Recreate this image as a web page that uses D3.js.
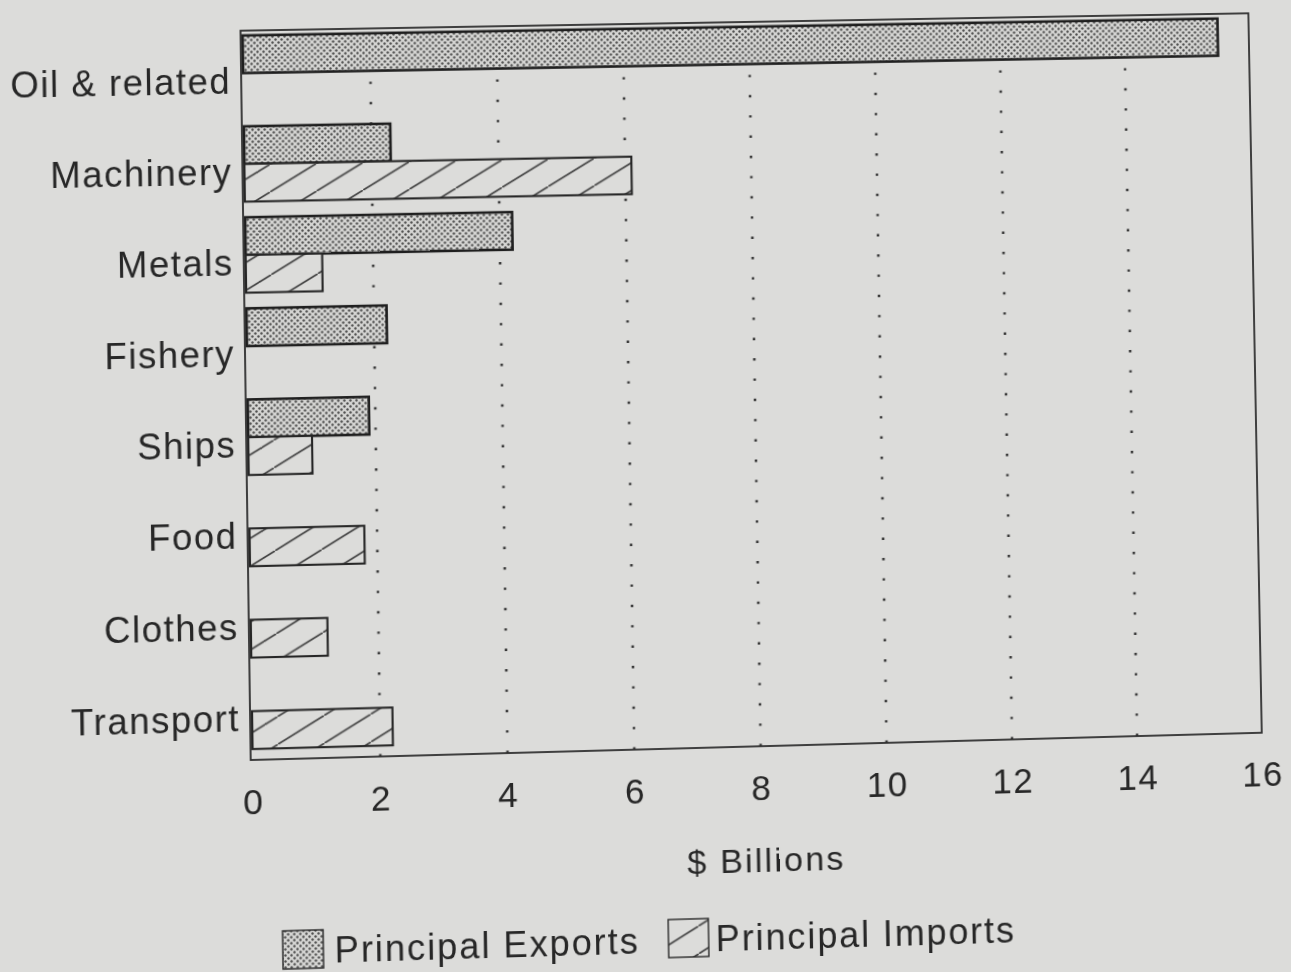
<!DOCTYPE html>
<html>
<head>
<meta charset="utf-8">
<script src="https://cdn.jsdelivr.net/npm/d3@7"></script>
<style>
  html, body { margin: 0; padding: 0; background: #dcdcda; overflow: hidden; }
  #chart { position: absolute; left: 0; top: 0; transform-origin: 0 0; }
  text { font-family: "Liberation Sans", Arial, Helvetica, sans-serif; fill: #272727; }
</style>
</head>
<body>
<svg id="chart" width="1291" height="972"></svg>
<script>
// Trade by commodity group, $ billions
const categories = ["Oil & related", "Machinery", "Metals", "Fishery", "Ships", "Food", "Clothes", "Transport"];
const exportsBn  = [15.5, 2.3, 4.2, 2.2, 1.9, 0, 0, 0];
const importsBn  = [0, 6.1, 1.2, 0, 1.0, 1.8, 1.2, 2.2];
const xTicks     = [0, 2, 4, 6, 8, 10, 12, 14, 16];
const gridTicks  = [2, 4, 6, 8, 10, 12, 14];
const seriesNames = ["Principal Exports", "Principal Imports"];
const axisTitle  = "$ Billions";

const frame = { left: 240, right: 1250, top: 31, bottom: 760 };

const svg = d3.select("#chart");

// ---- fill patterns ----
const defs = svg.append("defs");

const dots = defs.append("pattern")
  .attr("id", "dots").attr("patternUnits", "userSpaceOnUse")
  .attr("width", 6).attr("height", 6);
dots.append("rect").attr("width", 6).attr("height", 6).attr("fill", "#d4d4d2");
dots.append("circle").attr("cx", 1.5).attr("cy", 1.5).attr("r", 1.2).attr("fill", "#505050");
dots.append("circle").attr("cx", 4.5).attr("cy", 4.5).attr("r", 1.2).attr("fill", "#505050");

const hw = 46, hh = 46 * 0.6;
const hatch = defs.append("pattern")
  .attr("id", "hatch").attr("patternUnits", "userSpaceOnUse")
  .attr("x", 37).attr("width", hw).attr("height", hh);
hatch.append("rect").attr("width", hw).attr("height", hh).attr("fill", "#dcdcda");
[[0, 0], [hw, -hh], [-hw, hh]].forEach(([dx, dy]) => {
  hatch.append("line")
    .attr("x1", 0 + dx).attr("y1", hh + dy)
    .attr("x2", hw + dx).attr("y2", 0 + dy)
    .attr("stroke", "#3a3a3a").attr("stroke-width", 1.6);
});

// ---- scales ----
const x = d3.scaleLinear().domain([0, 16]).range([242, frame.right]);
const y = d3.scaleBand().domain(categories).range([frame.top, frame.bottom]);
const bw = y.bandwidth();
const barOffset = bw * 0.053;
const barH = bw * 0.414;

// ---- dotted gridlines ----
svg.append("g").selectAll("line").data(gridTicks).join("line")
  .attr("x1", d => x(d)).attr("x2", d => x(d))
  .attr("y1", frame.bottom).attr("y2", frame.top)
  .attr("stroke", "#3a3a3a").attr("stroke-width", 2.6)
  .attr("stroke-dasharray", "2.4 18");

// ---- bars ----
const rows = categories.map((c, i) => ({ c, ex: exportsBn[i], im: importsBn[i] }));

svg.append("g").selectAll("rect").data(rows.filter(d => d.ex > 0)).join("rect")
  .attr("x", x(0)).attr("y", d => y(d.c) + barOffset)
  .attr("width", d => x(d.ex) - x(0)).attr("height", barH)
  .attr("fill", "url(#dots)").attr("stroke", "#1f1f1f").attr("stroke-width", 2.6);

svg.append("g").selectAll("rect").data(rows.filter(d => d.im > 0)).join("rect")
  .attr("x", x(0)).attr("y", d => y(d.c) + barOffset + barH)
  .attr("width", d => x(d.im) - x(0)).attr("height", barH)
  .attr("fill", "url(#hatch)").attr("stroke", "#262626").attr("stroke-width", 2.1);

// ---- frame ----
svg.append("rect")
  .attr("x", frame.left).attr("y", frame.top)
  .attr("width", frame.right - frame.left).attr("height", frame.bottom - frame.top)
  .attr("fill", "none").attr("stroke", "#2e2e2e").attr("stroke-width", 1.8);

// ---- category labels ----
svg.append("g").selectAll("text").data(categories).join("text")
  .attr("x", 230).attr("y", d => y(d) + bw / 2 + 17)
  .attr("text-anchor", "end")
  .style("font-size", "36px").style("letter-spacing", "1.5px")
  .text(d => d);

// ---- x axis ----
const axis = svg.append("g")
  .attr("transform", `translate(0,${frame.bottom})`)
  .call(d3.axisBottom(x).tickValues(xTicks).tickSize(0).tickFormat(d3.format("d")));
axis.select(".domain").remove();
axis.selectAll("text")
  .attr("y", 54).attr("dy", null)
  .attr("fill", "#272727")
  .style("font-size", "35px").style("letter-spacing", "1.5px")
  .style("font-family", "'Liberation Sans', Arial, Helvetica, sans-serif");

svg.append("text")
  .attr("x", 750).attr("y", 886).attr("text-anchor", "middle")
  .style("font-size", "34px").style("letter-spacing", "2.2px")
  .text(axisTitle);

// ---- legend ----
const legend = svg.append("g");
legend.append("rect").attr("x", 269).attr("y", 931).attr("width", 40).attr("height", 38)
  .attr("fill", "url(#dots)").attr("stroke", "#2a2a2a").attr("stroke-width", 1.4);
legend.append("text").attr("x", 320).attr("y", 964)
  .style("font-size", "36px").style("letter-spacing", "1.9px").text(seriesNames[0]);
legend.append("rect").attr("x", 651).attr("y", 931).attr("width", 40).attr("height", 38)
  .attr("fill", "url(#hatch)").attr("stroke", "#2a2a2a").attr("stroke-width", 1.4);
legend.append("text").attr("x", 698).attr("y", 964)
  .style("font-size", "36px").style("letter-spacing", "1.9px").text(seriesNames[1]);

// ---- gentle keystone tilt applied to the whole sheet ----
function homography(src, dst) {
  const A = [], b = [];
  for (let i = 0; i < 4; i++) {
    const [sx, sy] = src[i], [dx, dy] = dst[i];
    A.push([sx, sy, 1, 0, 0, 0, -sx * dx, -sy * dx]); b.push(dx);
    A.push([0, 0, 0, sx, sy, 1, -sx * dy, -sy * dy]); b.push(dy);
  }
  const n = 8;
  for (let c = 0; c < n; c++) {
    let p = c;
    for (let r = c + 1; r < n; r++) if (Math.abs(A[r][c]) > Math.abs(A[p][c])) p = r;
    [A[c], A[p]] = [A[p], A[c]]; [b[c], b[p]] = [b[p], b[c]];
    for (let r = c + 1; r < n; r++) {
      const f = A[r][c] / A[c][c];
      for (let k = c; k < n; k++) A[r][k] -= f * A[c][k];
      b[r] -= f * b[c];
    }
  }
  const h = new Array(n).fill(0);
  for (let r = n - 1; r >= 0; r--) {
    let s = b[r];
    for (let k = r + 1; k < n; k++) s -= A[r][k] * h[k];
    h[r] = s / A[r][r];
  }
  return h;
}
const h = homography(
  [[frame.left, frame.top], [frame.right, frame.top], [frame.left, frame.bottom], [frame.right, frame.bottom]],
  [[240.5, 30.7], [1248.3, 13.3], [250.7, 760], [1261.7, 732.7]]
);
document.getElementById("chart").style.transform =
  `matrix3d(${h[0]},${h[3]},0,${h[6]},${h[1]},${h[4]},0,${h[7]},0,0,1,0,${h[2]},${h[5]},0,1)`;
</script>
</body>
</html>
